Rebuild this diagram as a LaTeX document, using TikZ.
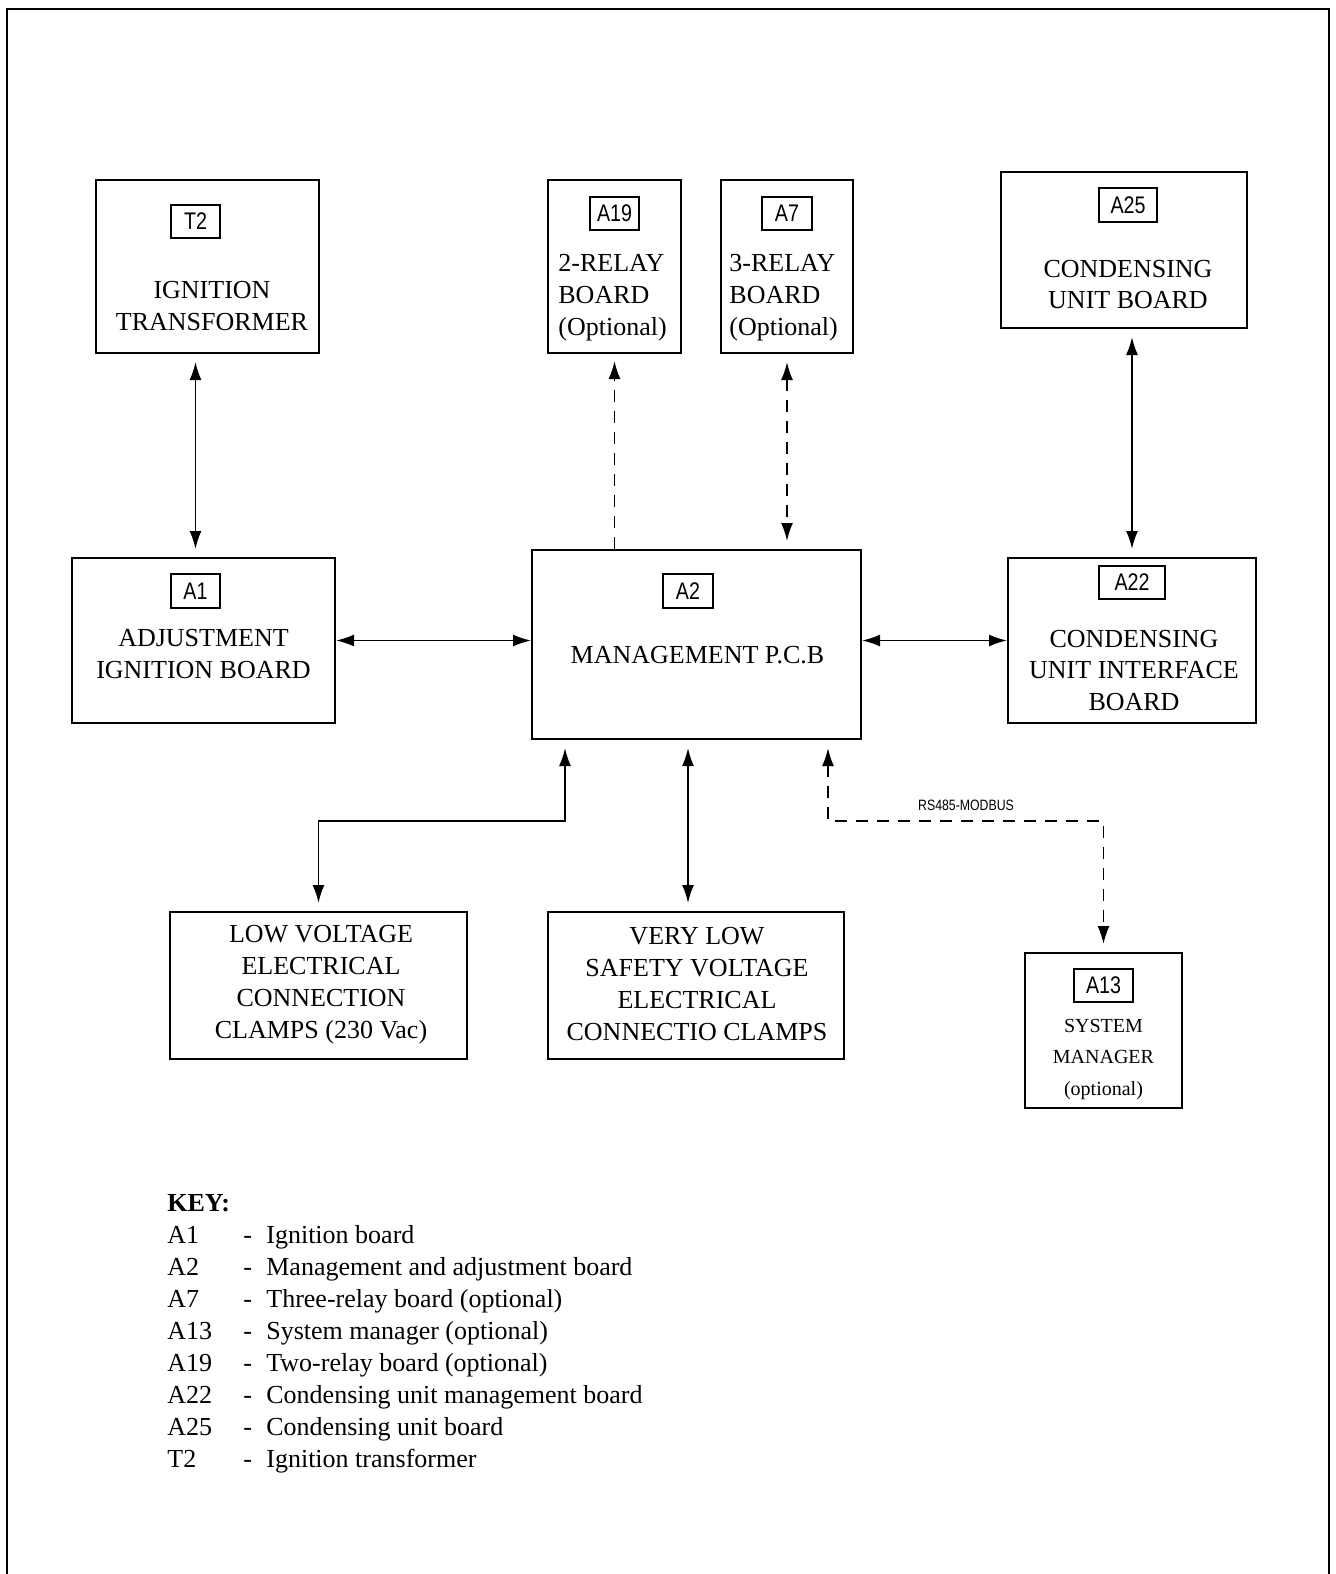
\documentclass[tikz,border=0pt]{standalone}
\usepackage{fontspec}
\setmainfont{Liberation Serif}
\newfontfamily\tagfont[FakeStretch=0.82]{Liberation Sans}
\usetikzlibrary{arrows.meta}

\begin{document}
\begin{tikzpicture}[
	x=0.5pt, y=-0.5pt,
	box/.style={rectangle, draw, line width=1pt, inner sep=0pt},
	tag/.style={rectangle, draw, line width=0.7pt, inner sep=0pt, minimum width=24.5pt, minimum height=16.5pt, font=\tagfont\fontsize{12}{12}\selectfont},
	txt/.style={align=center, anchor=base, inner sep=0pt, font=\fontsize{13}{16}\selectfont},
	txtL/.style={txt, align=left, anchor=base west},
	small/.style={txt, font=\fontsize{10}{15.75}\selectfont},
	keyrow/.style={anchor=base west, inner sep=0pt, font=\fontsize{13}{16}\selectfont},
	arr/.style={{Latex[length=9pt,width=6pt]}-{Latex[length=9pt,width=6pt]}, line width=0.9pt},
	tiparr/.style={-{Latex[length=9pt,width=6pt]}, line width=0.9pt},
	gap/.style={shorten <=4pt, shorten >=4pt},
	dashline/.style={dash pattern=on 6pt off 4.5pt}
	]
	\useasboundingbox (0,0) rectangle (1335,1574);
	% page frame
	\draw[line width=1pt] (7,1574) -- (7,9) -- (1329,9) -- (1329,1574);

	% top row (text nodes sit on the baseline of their last line)
	\node[box, minimum width=111.5pt, minimum height=86.5pt] (t2) at (207.5,266.5) {};
	\node[tag] (t2tag) at (195.5,221.5) {T2};
	\node[txt] (t2txt) at (212,330) {IGNITION\\TRANSFORMER};

	\node[box, minimum width=66.5pt, minimum height=86.5pt] (a19) at (614.5,266.5) {};
	\node[tag] (a19tag) at (614.5,213.5) {A19};
	\node[txtL] (a19txt) at (558,335) {2-RELAY\\BOARD\\(Optional)};

	\node[box, minimum width=66pt, minimum height=86.5pt] (a7) at (787,266.5) {};
	\node[tag, minimum width=25pt] (a7tag) at (787,213.5) {A7};
	\node[txtL] (a7txt) at (729,335) {3-RELAY\\BOARD\\(Optional)};

	\node[box, minimum width=123pt, minimum height=78pt] (a25) at (1124,250) {};
	\node[tag, minimum width=29pt, minimum height=17pt] (a25tag) at (1128,205) {A25};
	\node[txt, font=\fontsize{13}{15.5}\selectfont] (a25txt) at (1128,308) {CONDENSING\\UNIT BOARD};

	% middle row
	\node[box, minimum width=131.5pt, minimum height=82.5pt] (a1) at (203.5,640.5) {};
	\node[tag, minimum height=17pt] (a1tag) at (195.5,591) {A1};
	\node[txt] (a1txt) at (203.5,678) {ADJUSTMENT\\IGNITION BOARD};

	\node[box, minimum width=164.5pt, minimum height=94.5pt] (a2) at (696.5,644.5) {};
	\node[tag, minimum width=25pt, minimum height=17pt] (a2tag) at (688,591) {A2};
	\node[txt] (a2txt) at (697.5,663) {MANAGEMENT P.C.B};

	\node[box, minimum width=124pt, minimum height=82.5pt] (a22) at (1132,640.5) {};
	\node[tag, minimum width=33pt] (a22tag) at (1132,582.5) {A22};
	\node[txt, font=\fontsize{13}{15.75}\selectfont] (a22txt) at (1134,710) {CONDENSING\\UNIT INTERFACE\\BOARD};

	% bottom row
	\node[box, minimum width=148.5pt, minimum height=73.5pt] (lv) at (318.5,985.5) {};
	\node[txt] (lvtxt) at (321,1038) {LOW VOLTAGE\\ELECTRICAL\\CONNECTION\\CLAMPS (230 Vac)};

	\node[box, minimum width=148pt, minimum height=73.5pt] (vlsv) at (696,985.5) {};
	\node[txt] (vlsvtxt) at (697,1040) {VERY LOW\\SAFETY VOLTAGE\\ELECTRICAL\\CONNECTIO CLAMPS};

	\node[box, minimum width=78.5pt, minimum height=77.5pt] (a13) at (1103.5,1030.5) {};
	\node[tag, minimum width=29.5pt] (a13tag) at (1103.5,985.5) {A13};
	\node[small] (a13txt) at (1103.5,1095) {SYSTEM\\MANAGER\\(optional)};

	% connections
	\draw[arr, gap] (t2tag |- t2.south) -- (t2tag |- a1.north);
	\draw[tiparr, dashline, shorten >=3.5pt] (a19tag |- a2.north) -- (a19tag |- a19.south);
	\draw[arr, dashline, gap] (a7tag |- a7.south) -- (a7tag |- a2.north);
	\draw[arr, gap] (a22tag |- a25.south) -- (a22tag |- a22.north);
	\draw[arr] (a1.east) -- (a1.east -| a2.west);
	\draw[arr] (a22.west -| a2.east) -- (a22.west);

	\coordinate (lvbend) at (565,821);
	\draw[arr, gap] (lvbend |- a2.south) -- (lvbend) -| (lv.north);
	\draw[arr, gap] (a2tag |- a2.south) -- (a2tag |- vlsv.north);
	\coordinate (busbend) at (828,821);
	\draw[arr, dashline, gap] (busbend |- a2.south) -- (busbend) -| (a13.north);
	\node[anchor=base, inner sep=0pt, font=\tagfont\fontsize{7.5}{7.5}\selectfont] (bus) at (966,810) {RS485-MODBUS};

	% key
	\node[keyrow, font=\fontsize{13}{16}\bfseries] (key) at (167,1211) {KEY:};
	\node[keyrow] (k1) at (167,1243) {\makebox[38pt][l]{A1}\makebox[11.5pt][l]{-}Ignition board};
	\node[keyrow] (k2) at (167,1275) {\makebox[38pt][l]{A2}\makebox[11.5pt][l]{-}Management and adjustment board};
	\node[keyrow] (k3) at (167,1307) {\makebox[38pt][l]{A7}\makebox[11.5pt][l]{-}Three-relay board (optional)};
	\node[keyrow] (k4) at (167,1339) {\makebox[38pt][l]{A13}\makebox[11.5pt][l]{-}System manager (optional)};
	\node[keyrow] (k5) at (167,1371) {\makebox[38pt][l]{A19}\makebox[11.5pt][l]{-}Two-relay board (optional)};
	\node[keyrow] (k6) at (167,1403) {\makebox[38pt][l]{A22}\makebox[11.5pt][l]{-}Condensing unit management board};
	\node[keyrow] (k7) at (167,1435) {\makebox[38pt][l]{A25}\makebox[11.5pt][l]{-}Condensing unit board};
	\node[keyrow] (k8) at (167,1467) {\makebox[38pt][l]{T2}\makebox[11.5pt][l]{-}Ignition transformer};
\end{tikzpicture}
\end{document}
